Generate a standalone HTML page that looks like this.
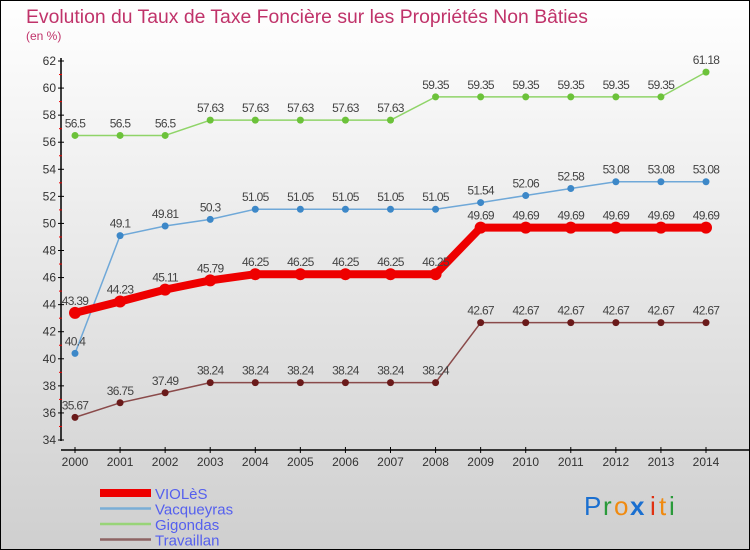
<!DOCTYPE html>
<html><head><meta charset="utf-8"><style>
body{margin:0}
#c{width:750px;height:550px;position:relative;overflow:hidden}
text{font-family:"Liberation Sans",sans-serif}
</style></head><body>
<div id="c">
<svg id="s" width="750" height="550" xmlns="http://www.w3.org/2000/svg">
<defs><linearGradient id="bg" x1="0" y1="0" x2="0" y2="1"><stop offset="0" stop-color="#ffffff"/><stop offset="1" stop-color="#cfcfcf"/></linearGradient></defs>
<rect x="0.5" y="0.5" width="749" height="549" fill="url(#bg)" stroke="#000"/>
<text x="26" y="23" font-size="19" fill="#c0336a" textLength="562" lengthAdjust="spacingAndGlyphs">Evolution du Taux de Taxe Foncière sur les Propriétés Non Bâties</text>
<text x="26" y="40" font-size="12" fill="#c0336a">(en %)</text>
<g id="axes"></g><g id="series"></g><g id="legend"></g>
<g font-size="26">
<text x="584" y="515" fill="#1a6fd0">P</text><text x="603" y="515" fill="#2a9a3a">r</text><text x="614" y="515" fill="#f08a10">o</text><text x="630" y="515" fill="#1a6fd0" font-weight="bold">x</text><text x="650" y="515" fill="#e03010">i</text><text x="659" y="515" fill="#f08a10">t</text><text x="669" y="515" fill="#2a9a3a">i</text>
</g>
</svg></div>
<script>
const years=[2000,2001,2002,2003,2004,2005,2006,2007,2008,2009,2010,2011,2012,2013,2014];
const violes=[43.39,44.23,45.11,45.79,46.25,46.25,46.25,46.25,46.25,49.69,49.69,49.69,49.69,49.69,49.69];
const vacqueyras=[40.4,49.1,49.81,50.3,51.05,51.05,51.05,51.05,51.05,51.54,52.06,52.58,53.08,53.08,53.08];
const gigondas=[56.5,56.5,56.5,57.63,57.63,57.63,57.63,57.63,59.35,59.35,59.35,59.35,59.35,59.35,61.18];
const travaillan=[35.67,36.75,37.49,38.24,38.24,38.24,38.24,38.24,38.24,42.67,42.67,42.67,42.67,42.67,42.67];
const yTicks=[34,36,38,40,42,44,46,48,50,52,54,56,58,60,62];
const NS="http://www.w3.org/2000/svg";
const X=i=>75+i*(706-75)/(years.length-1);
const Y=v=>440-(v-34)*(440-61)/28;
function mk(t,a,p){const e=document.createElementNS(NS,t);for(const k in a)e.setAttribute(k,a[k]);p.appendChild(e);return e;}
const ax=document.getElementById('axes');
let l=mk('line',{x1:61,y1:58,x2:61,y2:441,stroke:'#000','stroke-width':1.5},ax);


l=mk('line',{x1:61,y1:450,x2:750,y2:450,stroke:'#000','stroke-width':1.5},ax);


yTicks.forEach((v,i)=>{
 mk('line',{x1:58,y1:Y(v),x2:64,y2:Y(v),stroke:'#000'},ax);
 if(i<yTicks.length-1) mk('line',{x1:59,y1:Y(v+1),x2:62,y2:Y(v+1),stroke:'#e00'},ax);
 const t=mk('text',{x:56,y:Y(v)+4,'font-size':12,'text-anchor':'end',fill:'#333'},ax);t.textContent=v;
 
 
});
years.forEach((y,i)=>{
 mk('line',{x1:X(i),y1:447,x2:X(i),y2:453,stroke:'#000'},ax);
 const t=mk('text',{x:X(i),y:466,'font-size':12,'text-anchor':'middle',fill:'#333'},ax);t.textContent=y;
 
 
});
const sg=document.getElementById('series');
const defs=[
 {d:gigondas,c:'#8fd468',dot:'#6cc23a',w:1.5,r:3.5,n:'gigondas'},
 {d:vacqueyras,c:'#6fa8d8',dot:'#3d88c8',w:1.5,r:3.5,n:'vacqueyras'},
 {d:travaillan,c:'#8a4a4a',dot:'#6a1a1a',w:1.5,r:3.5,n:'travaillan'},
 {d:violes,c:'#ee0000',dot:'#ee0000',w:8,r:6,n:'violes'}];
defs.forEach(s=>{
 const p=mk('polyline',{points:s.d.map((v,i)=>X(i)+','+Y(v)).join(' '),fill:'none',stroke:s.c,'stroke-width':s.w,'stroke-linejoin':'round'},sg);
 
 
 s.d.forEach((v,i)=>{
  const c=mk('circle',{cx:X(i),cy:Y(v),r:s.r,fill:s.dot},sg);
  
  
  const t=mk('text',{x:X(i),y:Y(v)-8,'font-size':12,'text-anchor':'middle',fill:'#444','letter-spacing':'-0.7'},sg);
  t.textContent=v;
  
  
 });
});
const lg=document.getElementById('legend');
[['VIOLèS','#ee0000',8],['Vacqueyras','#7aaed6',2.5],['Gigondas','#98d478',2.5],['Travaillan','#8e6464',2.5]].forEach((e,i)=>{
 const y=493+i*15.5;
 const ln=mk('line',{x1:100,y1:y,x2:151,y2:y,stroke:e[1],'stroke-width':e[2]},lg);
 
 
 const t=mk('text',{x:155,y:y+6,'font-size':15,fill:'#5560ee'},lg);t.textContent=e[0];
 
 
});
</script>
</body></html>
